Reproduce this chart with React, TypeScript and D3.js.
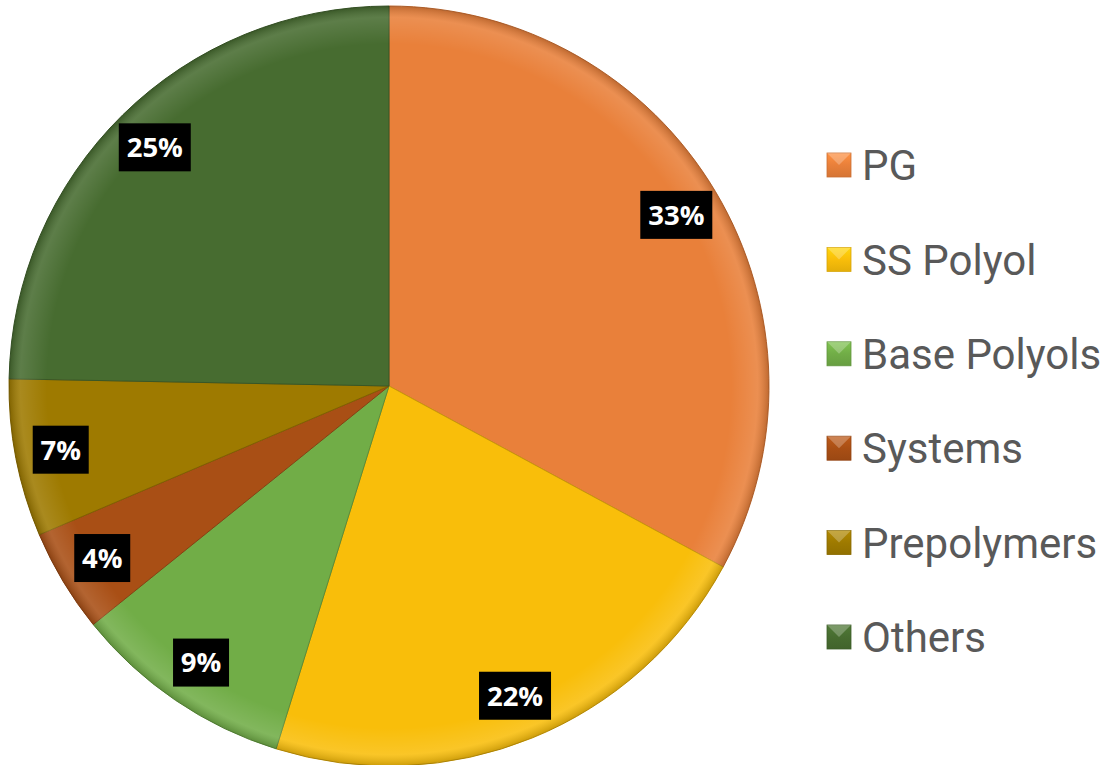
import React from "react";
import * as d3 from "d3";

const categories = ["PG", "SS Polyol", "Base Polyols", "Systems", "Prepolymers", "Others"];
const values = [32.9, 21.9, 9.4, 4.4, 6.7, 24.7];
const labels = ["33%", "22%", "9%", "4%", "7%", "25%"];
const colors = ["#E9803A", "#F9BE0A", "#71AD47", "#A94F15", "#9E7A00", "#476C30"];

const W = 1112;
const H = 765;

export default function App() {
  const cx = 389;
  const cy = 386;
  const R = 380;

  const pie = d3.pie<number>().sort(null).value((d) => d)(values);
  const arc = d3.arc<d3.PieArcDatum<number>>().innerRadius(0).outerRadius(R);
  const labelArc = d3.arc<d3.PieArcDatum<number>>().innerRadius(R * 0.88).outerRadius(R * 0.88);

  const legendY = d3.scalePoint<string>().domain(categories).range([165, 637]);

  return (
    <div style={{ position: "fixed", left: 0, top: 0 }}>
      <svg width={W} height={H} style={{ display: "block", background: "#fff" }}>
        <defs>
          <radialGradient id="rim" cx="50%" cy="50%" r="50%">
            <stop offset="0%" stopColor="#fff" stopOpacity={0} />
            <stop offset="90%" stopColor="#fff" stopOpacity={0} />
            <stop offset="97%" stopColor="#fff" stopOpacity={0.12} />
            <stop offset="100%" stopColor="#000" stopOpacity={0.18} />
          </radialGradient>
          {colors.map((c, i) => (
            <linearGradient key={i} id={`lg${i}`} x1="0" y1="0" x2="0" y2="1">
              <stop offset="0%" stopColor={d3.color(c)!.brighter(0.35).toString()} />
              <stop offset="50%" stopColor={c} />
              <stop offset="100%" stopColor={d3.color(c)!.darker(0.25).toString()} />
            </linearGradient>
          ))}
        </defs>
        <g transform={`translate(${cx},${cy})`}>
          {pie.map((d, i) => (
            <path key={i} d={arc(d)!} fill={colors[i]} stroke={d3.color(colors[i])!.darker(0.6).toString()} strokeWidth={1} />
          ))}
          <circle r={R} fill="url(#rim)" />
          {pie.map((d, i) => {
            const [x, y] = labelArc.centroid(d);
            const txt = labels[i];
            const w = txt.length === 3 ? 72 : 56;
            return (
              <g key={i} transform={`translate(${x},${y})`}>
                <rect x={-w / 2} y={-24} width={w} height={48} fill="#000" />
                <text
                  textAnchor="middle"
                  dy="0.36em"
                  fill="#fff"
                  fontFamily="'Open Sans', 'DejaVu Sans', sans-serif"
                  fontWeight={700}
                  fontSize={27.5}
                >
                  {txt}
                </text>
              </g>
            );
          })}
        </g>
        <g>
          {categories.map((c, i) => (
            <g key={c} transform={`translate(827,${legendY(c)})`}>
              <rect x={0} y={-12} width={24} height={24} fill={`url(#lg${i})`} stroke={d3.color(colors[i])!.darker(0.4).toString()} strokeWidth={0.8} />
              <path d="M0,-12 L12,0 L24,-12 Z" fill="#fff" opacity={0.25} />
              <text x={35} dy="0.36em" fill="#595959" fontFamily="Roboto, sans-serif" fontSize={42}>
                {c}
              </text>
            </g>
          ))}
        </g>
      </svg>
    </div>
  );
}
